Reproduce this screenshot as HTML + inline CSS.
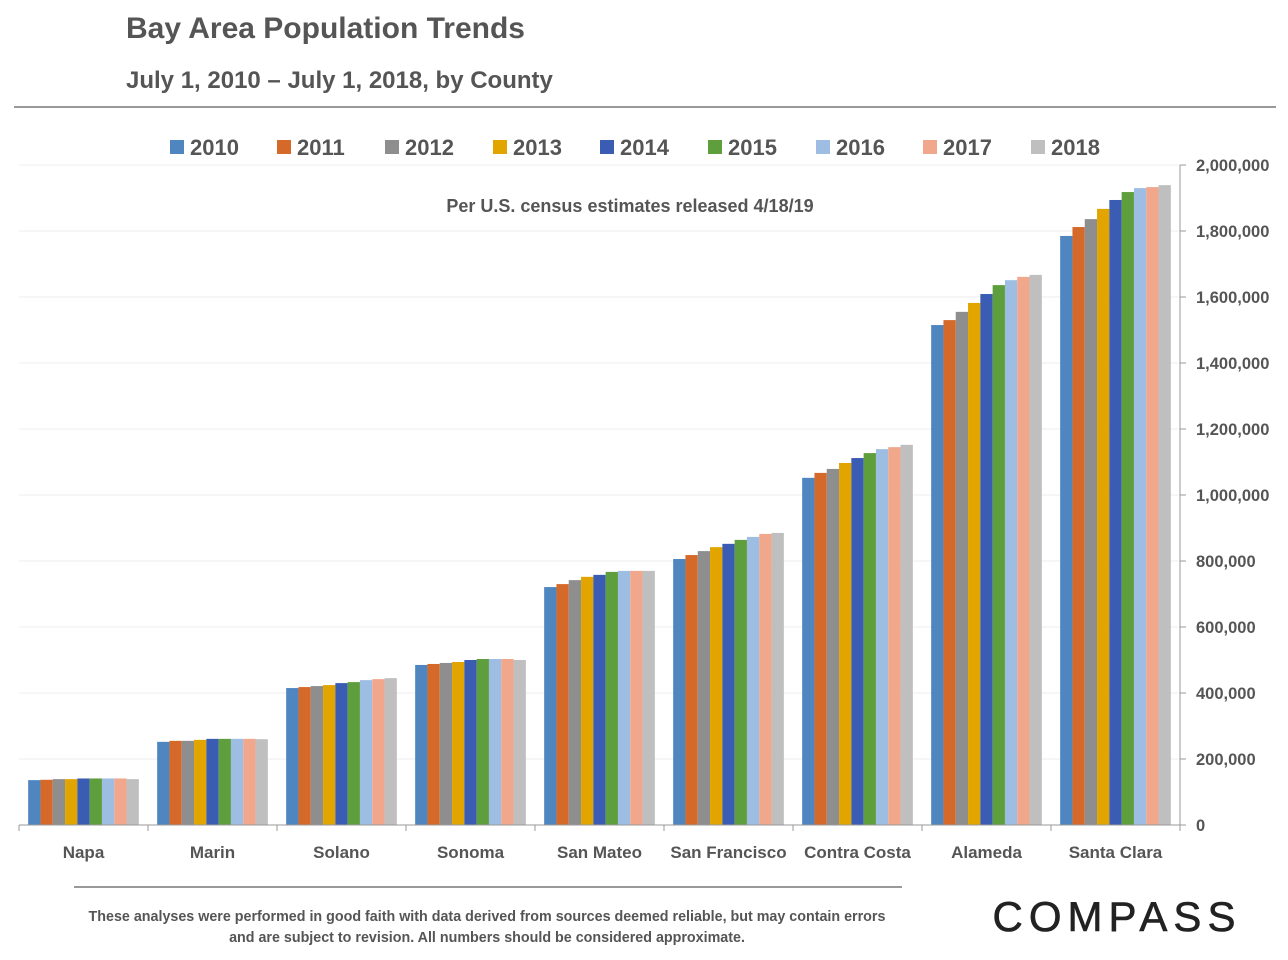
<!DOCTYPE html>
<html><head><meta charset="utf-8"><style>
body{margin:0;background:#fff;font-family:"Liberation Sans",sans-serif;}
svg{display:block}
</style></head><body>
<svg width="1288" height="960" xmlns="http://www.w3.org/2000/svg" id="chart" font-family="Liberation Sans, sans-serif">
<text x="126" y="38" font-size="30" font-weight="bold" fill="#555">Bay Area Population Trends</text>
<text x="126" y="88" font-size="24" font-weight="bold" fill="#555">July 1, 2010 – July 1, 2018, by County</text>
<line x1="14" y1="107" x2="1276" y2="107" stroke="#999" stroke-width="2"/>
<text x="630" y="212" font-size="18" font-weight="bold" fill="#555" text-anchor="middle">Per U.S. census estimates released 4/18/19</text>
<g id="grid"></g><g id="bars"></g><g id="axes"></g><g id="legend"></g>
<line x1="74" y1="887" x2="902" y2="887" stroke="#999" stroke-width="2"/>
<text x="487" y="921" font-size="14.3" font-weight="bold" fill="#555" text-anchor="middle">These analyses were performed in good faith with data derived from sources deemed reliable, but may contain errors</text>
<text x="487" y="942" font-size="14.3" font-weight="bold" fill="#555" text-anchor="middle">and are subject to revision.  All numbers should be considered approximate.</text>
<text x="1117" y="931" font-size="42" fill="#222" text-anchor="middle" letter-spacing="6" stroke="#222" stroke-width="0.6">COMPASS</text>
</svg>
<script>
const categories=["Napa","Marin","Solano","Sonoma","San Mateo","San Francisco","Contra Costa","Alameda","Santa Clara"];
const years=["2010","2011","2012","2013","2014","2015","2016","2017","2018"];
const colors=["#4f86c0","#d5692a","#8e8e8e","#e2a500","#3a5db3","#5e9e3d","#9ebde3","#f0a78b","#bfbfbf"];
const v2010=[136000,252000,415000,485000,721000,806000,1052000,1515000,1785000];
const v2011=[137000,255000,418000,488000,730000,818000,1067000,1530000,1812000];
const v2012=[139000,255000,421000,491000,742000,830000,1079000,1555000,1836000];
const v2013=[139000,258000,424000,494000,752000,842000,1097000,1582000,1867000];
const v2014=[141000,261000,430000,500000,758000,852000,1112000,1609000,1894000];
const v2015=[141000,261000,433000,503000,767000,864000,1127000,1636000,1918000];
const v2016=[141000,261000,439000,503000,770000,873000,1139000,1651000,1930000];
const v2017=[141000,261000,442000,503000,770000,882000,1145000,1661000,1933000];
const v2018=[139000,260000,445000,500000,770000,885000,1152000,1667000,1939000];
const series=[v2010,v2011,v2012,v2013,v2014,v2015,v2016,v2017,v2018];
const yTicks=[0,200000,400000,600000,800000,1000000,1200000,1400000,1600000,1800000,2000000];
const yTickLabels=["0","200,000","400,000","600,000","800,000","1,000,000","1,200,000","1,400,000","1,600,000","1,800,000","2,000,000"];

const NS="http://www.w3.org/2000/svg";
const X0=19,X1=1180,Y0=825,Y1=165,YMAX=2000000;
const groupW=(X1-X0)/categories.length, barW=12.3, pad=(groupW-barW*9)/2;
const y=v=>Y0-(v/YMAX)*(Y0-Y1);
function mk(tag,attrs,parent,text){const e=document.createElementNS(NS,tag);for(const k in attrs)e.setAttribute(k,attrs[k]);if(text!==undefined)e.textContent=text;document.getElementById(parent).appendChild(e);return e;}
yTicks.forEach((t,i)=>{
  if(t>0){const g=mk('line',{x1:X0,x2:X1,y1:y(t),y2:y(t),stroke:'#eee','stroke-width':1},'grid');
  
  }
  const tk=mk('line',{x1:X1,x2:X1+6,y1:y(t),y2:y(t),stroke:'#999'},'axes');
  
  
  const l=mk('text',{x:X1+16,y:y(t)+6,'font-size':16.5,'font-weight':'bold',fill:'#555'},'axes',yTickLabels[i]);
  
  
});
series.forEach((s,si)=>{s.forEach((v,ci)=>{
  const r=mk('rect',{x:X0+ci*groupW+pad+si*barW,y:y(v),width:barW,height:Y0-y(v),fill:colors[si]},'bars');
  
  
});});
const ax=mk('line',{x1:X0,x2:X1,y1:Y0,y2:Y0,stroke:'#999'},'axes');


const ay=mk('line',{x1:X1,x2:X1,y1:Y1,y2:Y0,stroke:'#999'},'axes');


for(let i=0;i<=categories.length;i++){const t=mk('line',{x1:X0+i*groupW,x2:X0+i*groupW,y1:Y0,y2:Y0+6,stroke:'#999'},'axes');
  
  }
categories.forEach((c,i)=>{const t=mk('text',{x:X0+(i+0.5)*groupW,y:858,'font-size':17,'font-weight':'bold',fill:'#555','text-anchor':'middle'},'axes',c);
  
  });
const legX=[170,277,385,493,600,708,816,923,1031];
years.forEach((yr,i)=>{
  const r=mk('rect',{x:legX[i],y:140,width:14,height:14,fill:colors[i]},'legend');
  
  
  const t=mk('text',{x:legX[i]+20,y:155,'font-size':22,'font-weight':'bold',fill:'#555'},'legend',yr);
  
  
});
</script>
</body></html>
